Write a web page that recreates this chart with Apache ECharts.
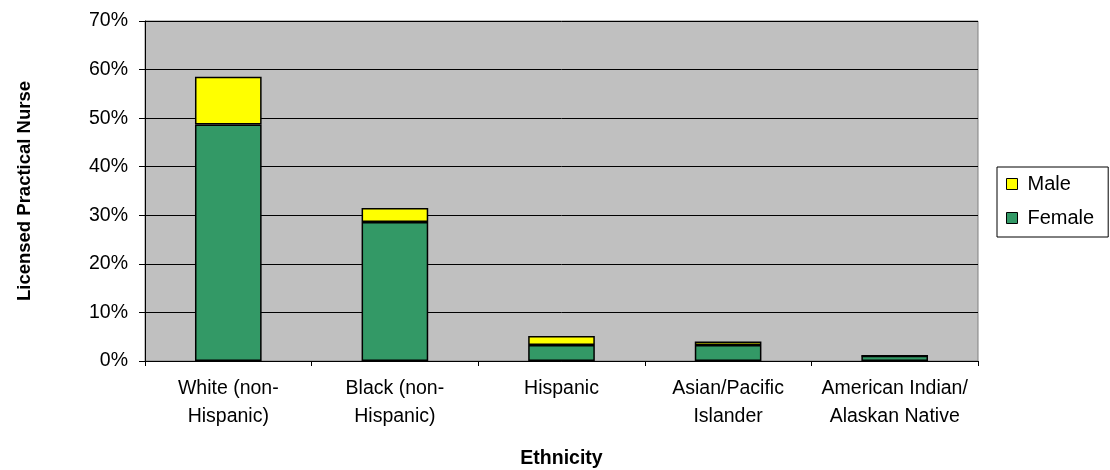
<!DOCTYPE html>
<html><head><meta charset="utf-8">
<script src="https://cdn.jsdelivr.net/npm/echarts@6/dist/echarts.min.js"></script>
<style>html,body{margin:0;padding:0;background:#fff}#c{width:1110px;height:470px}</style>
</head><body><div id="c"></div>
<script>
var categories = ['White (non-\nHispanic)', 'Black (non-\nHispanic)', 'Hispanic', 'Asian/Pacific\nIslander', 'American Indian/\nAlaskan Native'];
var female = [48.7, 28.6, 3.3, 3.3, 1.1];
var male = [9.8, 2.9, 1.85, 0.7, 0];
var yTicks = [0, 10, 20, 30, 40, 50, 60, 70];
var font = 'Liberation Sans, Arial, sans-serif';
var chart = echarts.init(document.getElementById('c'));
chart.setOption({
  animation: false,
  grid: {left: 145, top: 21, right: 132, bottom: 109, show: true, backgroundColor: '#C0C0C0', borderColor: '#808080', borderWidth: 1, containLabel: false, outerBoundsMode: 'none'},
  legend: {
    data: ['Male', 'Female'], orient: 'vertical', left: 997, top: 167,
    padding: [7, 14, 9, 9], itemGap: 14,
    borderColor: '#000', borderWidth: 1, backgroundColor: '#fff', borderRadius: 0,
    icon: 'rect', itemWidth: 11, itemHeight: 11,
    itemStyle: {borderColor: '#000', borderWidth: 1},
    textStyle: {fontFamily: font, fontSize: 20, color: '#000', lineHeight: 20, padding: [0, 0, 0, 5]}
  },
  xAxis: {
    type: 'category', data: categories,
    name: 'Ethnicity', nameLocation: 'middle', nameGap: 88,
    nameTextStyle: {fontFamily: font, fontSize: 19.5, fontWeight: 'bold', color: '#000'},
    axisLine: {lineStyle: {color: '#000', width: 1}},
    axisTick: {show: true, alignWithLabel: false, length: 5, lineStyle: {color: '#000'}},
    axisLabel: {fontFamily: font, fontSize: 19.5, color: '#000', margin: 14, lineHeight: 28, interval: 0}
  },
  yAxis: {
    type: 'value', min: 0, max: 70, interval: 10,
    name: 'Licensed Practical Nurse', nameLocation: 'middle', nameGap: 111, nameRotate: 90,
    nameTextStyle: {fontFamily: font, fontSize: 18.5, fontWeight: 'bold', color: '#000'},
    axisLine: {show: true, lineStyle: {color: '#000', width: 1}},
    axisTick: {show: true, length: 6, lineStyle: {color: '#000'}},
    axisLabel: {fontFamily: font, fontSize: 19.5, color: '#000', margin: 17, formatter: function(v){return v + '%';}},
    splitLine: {show: true, lineStyle: {color: '#000', width: 1}}
  },
  series: [
    {name: 'Female', type: 'bar', stack: 's', data: female, barWidth: '40%',
     itemStyle: {color: '#339966', borderColor: '#000', borderWidth: 1.5}},
    {name: 'Male', type: 'bar', stack: 's', data: male, barWidth: '40%',
     itemStyle: {color: '#FFFF00', borderColor: '#000', borderWidth: 1.5}}
  ]
});
</script></body></html>
